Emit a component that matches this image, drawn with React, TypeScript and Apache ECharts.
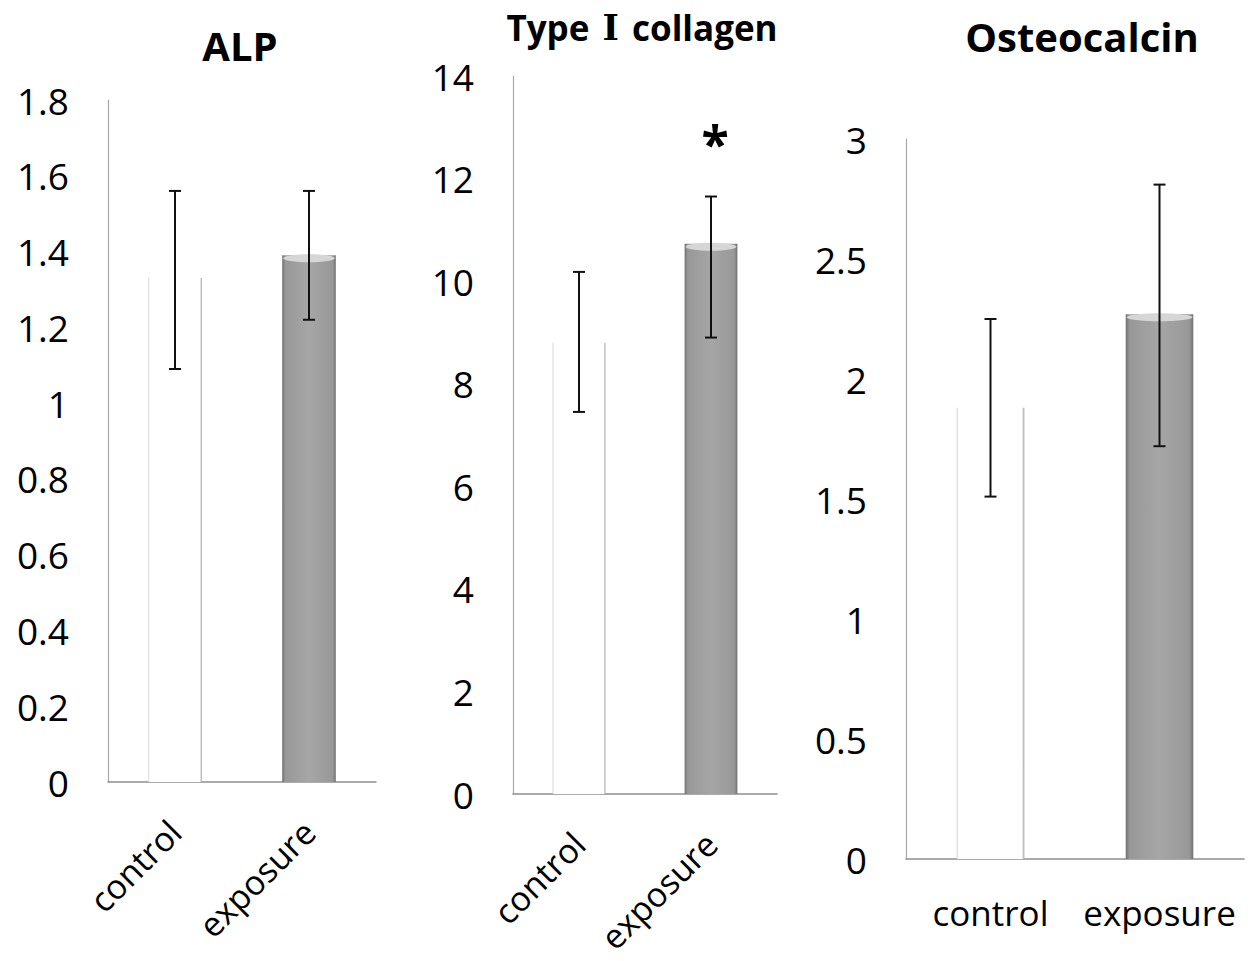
import React, { useEffect, useRef } from "react";
import * as echarts from "echarts";

// ---- data ----
const categories = ["control", "exposure"];

const alpMean = [1.33, 1.39];
const alpLow = [1.09, 1.22];
const alpHigh = [1.56, 1.56];

const colMean = [8.8, 10.73];
const colLow = [7.45, 8.9];
const colHigh = [10.18, 11.65];

const ostMean = [1.88, 2.27];
const ostLow = [1.51, 1.72];
const ostHigh = [2.25, 2.81];

const panelTitles = ["ALP", "Type {r|Ⅰ} collagen", "Osteocalcin"];
const yMax = [1.8, 14, 3];
const yStep = [0.2, 2, 0.5];
const sigMarks = [[], ["", "*"], []];

const FONT = "'Open Sans', 'Noto Sans', 'Noto Sans CJK JP', sans-serif";
const SERIF = "'DejaVu Serif', 'Liberation Serif', serif";

const controlFill = new echarts.graphic.LinearGradient(0, 0, 1, 0, [
  { offset: 0, color: "#cfcfcf" },
  { offset: 0.03, color: "#ffffff" },
  { offset: 0.965, color: "#ffffff" },
  { offset: 1, color: "#9c9c9c" },
]);
const exposureFill = new echarts.graphic.LinearGradient(0, 0, 1, 0, [
  { offset: 0, color: "#707070" },
  { offset: 0.06, color: "#989898" },
  { offset: 0.5, color: "#a6a6a6" },
  { offset: 0.94, color: "#989898" },
  { offset: 1, color: "#707070" },
]);

export default function App() {
  const ref = useRef<HTMLDivElement>(null);

  useEffect(() => {
    if (!ref.current) return;
    const chart = echarts.init(ref.current, undefined, { renderer: "svg" });

    const grids = [
      { left: 108, top: 100, width: 268, height: 682 },
      { left: 513, top: 76, width: 264, height: 718 },
      { left: 906, top: 139, width: 338, height: 720 },
    ];
    const means = [alpMean, colMean, ostMean];
    const lows = [alpLow, colLow, ostLow];
    const highs = [alpHigh, colHigh, ostHigh];

    const xAxis = grids.map((_, i) => ({
      type: "category" as const,
      gridIndex: i,
      data: categories,
      axisLine: { show: true, lineStyle: { color: "#8f8f8f", width: 1.5 } },
      axisTick: { show: false },
      axisLabel: {
        rotate: i < 2 ? 45 : 0,
        margin: i < 2 ? 44 : 36,
        fontSize: i < 2 ? 34 : 35,
        color: "#000",
        fontFamily: FONT,
        interval: 0,
      },
    }));

    const yAxis = grids.map((_, i) => ({
      type: "value" as const,
      gridIndex: i,
      min: 0,
      max: yMax[i],
      interval: yStep[i],
      axisLine: { show: true, lineStyle: { color: "#a8a8a8", width: 1.2 } },
      axisTick: { show: false },
      splitLine: { show: false },
      axisLabel: {
        margin: 39,
        fontSize: 37,
        color: "#000",
        fontFamily: FONT,
      },
    }));

    const series: any[] = [];
    grids.forEach((_, i) => {
      series.push({
        type: "bar",
        xAxisIndex: i,
        yAxisIndex: i,
        barWidth: "40%",
        data: means[i].map((v, j) => ({
          value: v,
          itemStyle: { color: j === 0 ? controlFill : exposureFill },
        })),
        label: {
          show: true,
          position: "top",
          distance: 0,
          formatter: (p: any) => sigMarks[i][p.dataIndex] || "",
          fontSize: 50,
          fontWeight: "bold",
          color: "#000",
          fontFamily: FONT,
          offset: [4, -76],
        },
      });
      // top highlight of the shaded (exposure) bar
      series.push({
        type: "custom",
        xAxisIndex: i,
        yAxisIndex: i,
        z: 5,
        data: [[1, means[i][1]]],
        renderItem: (params: any, api: any) => {
          const p = api.coord([api.value(0), api.value(1)]);
          const w = api.size([1, 0])[0] * 0.4;
          return {
            type: "ellipse",
            shape: { cx: p[0], cy: p[1] + 3, rx: w / 2 - 1, ry: 4 },
            style: { fill: "#d6d6d6" },
          };
        },
      });
      series.push({
        type: "custom",
        xAxisIndex: i,
        yAxisIndex: i,
        z: 10,
        data: categories.map((_, j) => [j, lows[i][j], highs[i][j]]),
        renderItem: (params: any, api: any) => {
          const x = api.value(0);
          const top = api.coord([x, api.value(2)]);
          const bot = api.coord([x, api.value(1)]);
          const cw = 6;
          const st = { stroke: "#111", lineWidth: 2 };
          return {
            type: "group",
            children: [
              { type: "line", shape: { x1: top[0], y1: top[1], x2: bot[0], y2: bot[1] }, style: st },
              { type: "line", shape: { x1: top[0] - cw, y1: top[1], x2: top[0] + cw, y2: top[1] }, style: st },
              { type: "line", shape: { x1: bot[0] - cw, y1: bot[1], x2: bot[0] + cw, y2: bot[1] }, style: st },
            ],
          };
        },
      });
    });

    const titleX = [240, 642, 1082];
    const titleY = [45, 27, 36];
    const titleSize = [40, 35, 40];

    chart.setOption({
      animation: false,
      backgroundColor: "#ffffff",
      grid: grids,
      xAxis,
      yAxis,
      series,
      graphic: panelTitles.map((t, i) => ({
        type: "text",
        x: titleX[i],
        y: titleY[i],
        style: {
          text: t,
          align: "center",
          verticalAlign: "middle",
          fontSize: titleSize[i],
          fontWeight: "bold",
          fontFamily: FONT,
          fill: "#000",
          rich: {
            r: {
              fontSize: titleSize[i],
              fontWeight: "bold",
              fontFamily: SERIF,
              fill: "#000",
              padding: [0, 4, 0, 4],
            },
          },
        },
      })),
    });

    return () => chart.dispose();
  }, []);

  return (
    <div
      ref={ref}
      style={{ position: "fixed", left: 0, top: 0, width: 1255, height: 961, background: "#fff" }}
    />
  );
}
